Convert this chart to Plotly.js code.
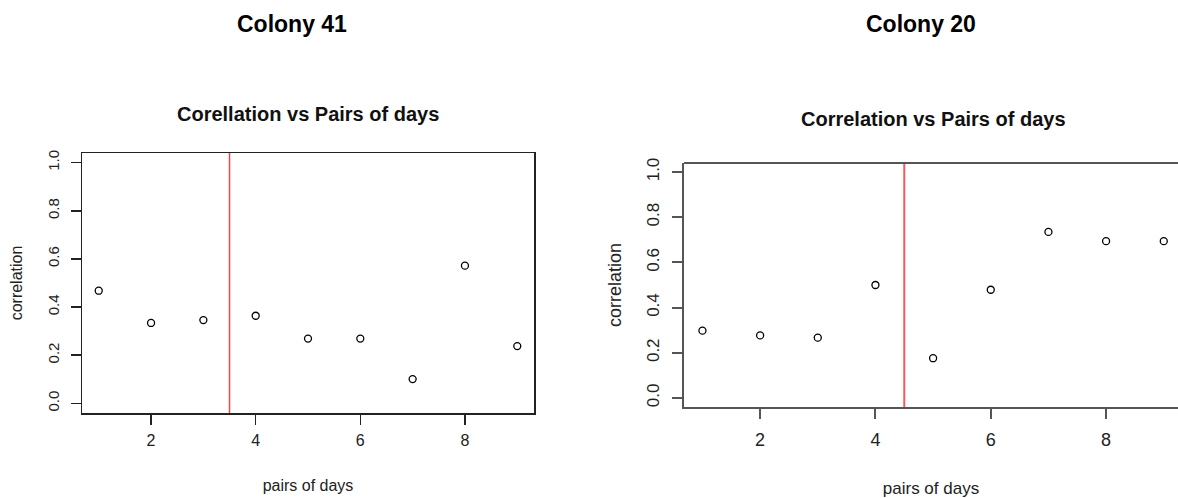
<!DOCTYPE html>
<html>
<head>
<meta charset="utf-8">
<script src="https://cdn.plot.ly/plotly-3.0.1.min.js"></script>
<style>html,body{margin:0;padding:0;background:#fff;}#chart{width:1178px;height:498px;}</style>
</head>
<body>
<div id="chart"></div>
<script>
// ---- data ----
const pairsOfDays = [1, 2, 3, 4, 5, 6, 7, 8, 9];
const corrColony41 = [0.468, 0.334, 0.346, 0.364, 0.269, 0.269, 0.101, 0.572, 0.238];
const corrColony20 = [0.298, 0.277, 0.267, 0.500, 0.176, 0.479, 0.735, 0.694, 0.694];
const cutoffColony41 = 3.5;
const cutoffColony20 = 4.5;
const xTickVals = [2, 4, 6, 8];
const yTickVals = [0, 0.2, 0.4, 0.6, 0.8, 1.0];
const panelTitles = ["Colony 41", "Colony 20"];
const plotTitles = ["Corellation vs Pairs of days", "Correlation vs Pairs of days"];
const xTitle = "pairs of days";
const yTitle = "correlation";

// ---- layout helpers (pixel geometry of the 1178x498 canvas) ----
const W = 1178, H = 498;
const px = v => v / W;
const py = v => 1 - v / H;
const FONT = "Liberation Sans, Arial, sans-serif";

const marker = {symbol: "circle-open", size: 7, color: "#000", line: {width: 1.3, color: "#000"}};

const traces = [
  {x: pairsOfDays, y: corrColony41, type: "scatter", mode: "markers", marker: marker, xaxis: "x", yaxis: "y", hoverinfo: "x+y"},
  {x: pairsOfDays, y: corrColony20, type: "scatter", mode: "markers", marker: marker, xaxis: "x2", yaxis: "y2", hoverinfo: "x+y"}
];

function xAxis(domain, range, fs, tfs, standoff, lblOff, col, lw, mirror) {
  return {
    domain: domain, range: range, tickmode: "array", tickvals: xTickVals,
    ticks: "outside", ticklen: 10, tickwidth: lw, tickcolor: col,
    showline: true, linecolor: col, linewidth: lw, mirror: mirror,
    showgrid: false, zeroline: false, ticklabelstandoff: lblOff,
    tickfont: {family: FONT, size: fs, color: "#222"},
    title: {text: xTitle, font: {family: FONT, size: tfs, color: "#222"}, standoff: standoff}
  };
}
function yAxis(domain, fs, tfs, col, lw, mirror) {
  return {
    domain: domain, range: [-0.04, 1.04], tickmode: "array", tickvals: yTickVals, tickformat: ".1f",
    ticks: "outside", ticklen: 10, tickwidth: lw, tickcolor: col, tickangle: -90,
    showline: true, linecolor: col, linewidth: lw, mirror: mirror,
    showgrid: false, zeroline: false, ticklabelstandoff: 6,
    tickfont: {family: FONT, size: fs, color: "#222"},
    title: {text: yTitle, font: {family: FONT, size: tfs, color: "#222"}, standoff: 18}
  };
}

const layout = {
  width: W, height: H,
  margin: {l: 0, r: 0, t: 0, b: 0},
  paper_bgcolor: "#fff", plot_bgcolor: "#fff",
  showlegend: false,
  font: {family: FONT, color: "#222"},
  xaxis: xAxis([px(82), px(534)], [0.68, 9.32], 16, 16, 32, 2, "#222", 1.5, true),
  yaxis: yAxis([1 - 413 / H, 1 - 153 / H], 15, 16, "#222", 1.5, true),
  xaxis2: Object.assign(xAxis([px(684), 1], [0.68, 9.247], 18, 17, 36, 5, "#555", 2, false), {anchor: "y2"}),
  yaxis2: Object.assign(yAxis([1 - 407 / H, 1 - 163 / H], 17, 18, "#555", 2, false), {anchor: "x2"}),
  shapes: [
    {type: "line", xref: "x", yref: "y domain", x0: cutoffColony41, x1: cutoffColony41, y0: 0, y1: 1,
     line: {color: "rgb(240,70,70)", width: 1.5}},
    {type: "line", xref: "x2", yref: "y2 domain", x0: cutoffColony20, x1: cutoffColony20, y0: 0, y1: 1,
     line: {color: "rgb(245,90,90)", width: 2}},
    {type: "line", xref: "x2 domain", yref: "y2 domain", x0: 0, x1: 1, y0: 1, y1: 1,
     line: {color: "#555", width: 2}}
  ],
  annotations: [
    {text: "<b>" + panelTitles[0] + "</b>", xref: "paper", yref: "paper", x: px(292), y: py(24),
     xanchor: "center", yanchor: "middle", showarrow: false, font: {family: FONT, size: 23, color: "#000"}},
    {text: "<b>" + panelTitles[1] + "</b>", xref: "paper", yref: "paper", x: px(921), y: py(24),
     xanchor: "center", yanchor: "middle", showarrow: false, font: {family: FONT, size: 23, color: "#000"}},
    {text: "<b>" + plotTitles[0] + "</b>", xref: "paper", yref: "paper", x: px(308), y: py(114),
     xanchor: "center", yanchor: "middle", showarrow: false, font: {family: FONT, size: 20, color: "#111"}},
    {text: "<b>" + plotTitles[1] + "</b>", xref: "paper", yref: "paper", x: px(933), y: py(119),
     xanchor: "center", yanchor: "middle", showarrow: false, font: {family: FONT, size: 20, color: "#111"}}
  ]
};

Plotly.newPlot("chart", traces, layout, {displayModeBar: false, staticPlot: true});
</script>
</body>
</html>
